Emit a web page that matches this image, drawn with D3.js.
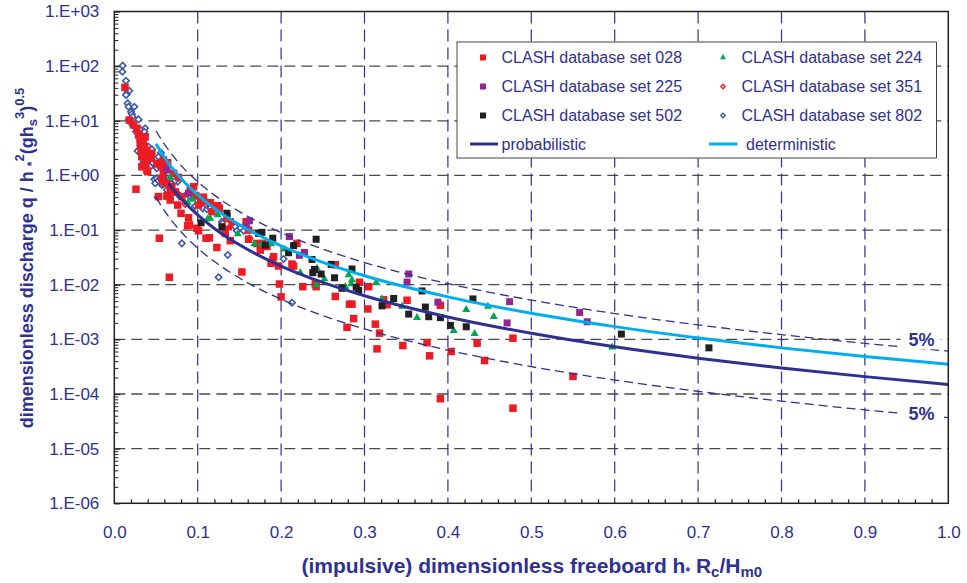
<!DOCTYPE html>
<html>
<head>
<meta charset="utf-8">
<script src="https://cdnjs.cloudflare.com/ajax/libs/d3/7.8.5/d3.min.js"></script>
<style>
  body { margin: 0; background: #fff; }
  svg text { font-family: "Liberation Sans", Arial, Helvetica, sans-serif; }
</style>
</head>
<body>
<script>
// ---- data: [h* Rc/Hm0, q/(h*^2 sqrt(g hs^3))] ----
var set028 = [[0.0128,41],[0.018,10.3],[0.023,8.4],[0.027,7.3],[0.029,5.5],[0.031,4.8],[0.033,4.4],[0.037,5.1],
  [0.031,3.9],[0.035,3.6],[0.032,2.9],[0.036,3.35],[0.039,2.9],[0.033,2.2],[0.036,2.2],[0.039,2.26],[0.043,2.05],
  [0.045,2.54],[0.037,1.66],[0.033,1.44],[0.039,1.26],[0.051,1.66],[0.055,1.55],[0.059,1.91],[0.059,1.17],
  [0.057,0.885],[0.059,0.77],[0.063,0.72],[0.026,0.56],[0.069,0.62],[0.073,0.50],[0.053,0.41],[0.063,0.42],
  [0.095,0.62],[0.091,0.525],[0.107,0.40],[0.081,0.41],[0.040,1.17],[0.054,0.071],[0.066,0.0137],[0.064,0.425],
  [0.067,0.355],[0.067,0.54],[0.071,1.09],[0.077,0.92],[0.076,0.287],[0.080,0.203],[0.089,0.168],[0.090,0.124],
  [0.088,0.12],[0.098,0.42],[0.101,0.287],[0.104,0.365],[0.106,0.33],[0.115,0.317],[0.121,0.268],[0.124,0.279],
  [0.126,0.25],[0.117,0.217],[0.099,0.108],[0.101,0.097],[0.110,0.071],[0.114,0.072],[0.123,0.048],[0.139,0.064],
  [0.133,0.087],[0.135,0.176],[0.139,0.142],[0.137,0.115],[0.153,0.0171],[0.158,0.142],[0.161,0.100],[0.161,0.068],
  [0.171,0.057],[0.175,0.043],[0.178,0.057],[0.183,0.050],[0.191,0.0326],[0.190,0.0283],[0.188,0.0247],[0.197,0.022],
  [0.198,0.0103],[0.200,0.0060],[0.213,0.0239],[0.215,0.022],[0.219,0.057],[0.226,0.0092],[0.242,0.0092],
  [0.057,1.44],[0.064,1.71],[0.059,1.26],[0.265,0.0232],[0.241,0.0103],[0.294,0.0111],[0.305,0.0092],[0.265,0.0061],
  [0.282,0.0044],[0.285,0.0044],[0.304,0.0036],[0.323,0.0053],[0.327,0.0043],[0.351,0.0052],[0.391,0.0042],
  [0.287,0.0024],[0.279,0.00166],[0.313,0.0019],[0.318,0.0013],[0.315,0.00067],[0.346,0.00077],[0.375,0.00087],
  [0.378,0.0005],[0.404,0.0006],[0.435,0.00085],[0.444,0.00041],[0.478,0.00105],[0.550,0.00021],[0.391,8.2e-5],
  [0.478,5.5e-5]];

var set224 = [[0.223,0.0166],[0.243,0.020],[0.252,0.0127],[0.242,0.0099],[0.281,0.0151],[0.285,0.0122],[0.284,0.0103],
  [0.277,0.0092],[0.314,0.0109],[0.321,0.0055],[0.345,0.0040],[0.363,0.0025],[0.422,0.0035],[0.448,0.0040],
  [0.455,0.0026],[0.407,0.00144],[0.432,0.00127],[0.597,0.00072],[0.067,0.92],[0.094,0.365],[0.088,0.317],
  [0.124,0.189],[0.115,0.164],[0.112,0.16],[0.148,0.085],[0.168,0.056],[0.177,0.056],[0.188,0.056],[0.204,0.0445]];

var set225 = [[0.228,0.039],[0.353,0.0157],[0.351,0.0112],[0.388,0.0048],[0.474,0.0049],[0.471,0.0020],[0.558,0.0031],
  [0.567,0.0021],[0.063,1.26],[0.089,0.47],[0.162,0.148],[0.158,0.119],[0.210,0.076],[0.222,0.0345]];

var set351 = [[0.085,0.30],[0.135,0.13]];

var set502 = [[0.242,0.068],[0.237,0.029],[0.240,0.019],[0.238,0.0166],[0.248,0.0157],[0.260,0.0236],[0.264,0.0134],
  [0.285,0.0194],[0.273,0.0086],[0.290,0.009],[0.293,0.0079],[0.369,0.0077],[0.335,0.0056],[0.321,0.0041],
  [0.373,0.0039],[0.353,0.0029],[0.377,0.0026],[0.391,0.0025],[0.403,0.0018],[0.422,0.0017],[0.430,0.0055],
  [0.608,0.00125],[0.713,0.0007],[0.104,0.136],[0.135,0.203],[0.129,0.115],[0.173,0.087],[0.177,0.091],
  [0.181,0.053],[0.190,0.071],[0.209,0.0385],[0.215,0.052]];

var set802 = [[0.010,102],[0.0096,79],[0.014,54],[0.016,34],[0.018,35.5],[0.015,30.8],[0.014,29.6],[0.016,20.8],
  [0.017,18.1],[0.024,18.1],[0.020,14.6],[0.021,13.3],[0.022,11.9],[0.017,10.3],[0.019,9.6],[0.022,8.4],[0.025,7.8],
  [0.029,10.6],[0.028,6.8],[0.026,6.3],[0.031,7.0],[0.037,7.3],[0.036,6.3],[0.033,5.1],[0.035,4.4],[0.029,2.9],
  [0.031,2.7],[0.028,2.8],[0.032,2.46],[0.041,3.35],[0.045,3.0],[0.037,1.91],[0.035,1.66],[0.045,2.14],[0.045,1.91],
  [0.043,1.44],[0.049,1.55],[0.051,1.35],[0.053,2.2],[0.056,2.6],[0.062,1.78],[0.048,0.85],[0.051,0.885],
  [0.049,0.72],[0.053,0.80],[0.059,0.95],[0.057,0.67],[0.063,0.54],[0.069,0.47],[0.076,0.77],[0.035,1.78],
  [0.037,1.44],[0.046,1.71],[0.053,1.55],[0.059,1.66],[0.061,1.44],[0.055,0.885],[0.059,0.70],[0.062,0.82],
  [0.068,0.70],[0.073,0.80],[0.052,0.40],[0.075,0.48],[0.077,0.44],[0.088,0.47],[0.090,0.42],[0.093,0.47],
  [0.097,0.275],[0.106,0.25],[0.111,0.24],[0.115,0.25],[0.121,0.217],[0.129,0.142],[0.130,0.133],[0.145,0.115],
  [0.147,0.097],[0.155,0.097],[0.162,0.070],[0.186,0.057],[0.081,0.057],[0.136,0.035],[0.125,0.0137],
  [0.203,0.0296],[0.213,0.0047]];

// curves (probabilistic / deterministic and the 5% bands)
var curveX     = [0.05, 0.06, 0.065, 0.07, 0.08, 0.1, 0.12, 0.15, 0.2, 0.25, 0.3, 0.4, 0.5, 0.6, 0.7, 0.8, 0.9, 1.0];
var probQ      = [null, null, 0.718, 0.570, 0.377, 0.189, 0.107, 0.0537, 0.0220, 0.0110, 0.00627, 0.00257, 0.00129, 7.31e-4, 4.53e-4, 3.0e-4, 2.08e-4, 1.5e-4];
var determQ    = [3.78, 2.15, 1.67, 1.33, 0.880, 0.441, 0.250, 0.125, 0.0514, 0.0257, 0.0146, 0.0060, 0.0030, 1.71e-3, 1.06e-3, 6.99e-4, 4.85e-4, 3.5e-4];
var upperQ     = [6.59, 3.74, 2.92, 2.32, 1.53, 0.768, 0.436, 0.218, 0.0895, 0.0448, 0.0255, 0.01045, 0.00523, 2.97e-3, 1.84e-3, 1.22e-3, 8.45e-4, 6.1e-4];
var lowerQ     = [0.400, 0.227, 0.177, 0.141, 0.093, 0.0466, 0.0265, 0.01325, 0.00543, 0.00272, 0.00155, 6.34e-4, 3.17e-4, 1.80e-4, 1.12e-4, 7.39e-5, 5.13e-5, 3.7e-5];

var xTickLabels = ["0.0","0.1","0.2","0.3","0.4","0.5","0.6","0.7","0.8","0.9","1.0"];
var yTickLabels = ["1.E-06","1.E-05","1.E-04","1.E-03","1.E-02","1.E-01","1.E+00","1.E+01","1.E+02","1.E+03"];
var legendNames = ["CLASH database set 028","CLASH database set 224","CLASH database set 225",
  "CLASH database set 351","CLASH database set 502","CLASH database set 802"];

// ---- layout ----
var svgWidth = 967, svgHeight = 583;
var margin = { top: 11.5, right: 18.7, bottom: 79.7, left: 114.3 };
var chartWidth = svgWidth - margin.left - margin.right;
var chartHeight = svgHeight - margin.top - margin.bottom;

var navy = "#2e3192";
var cyan = "#00aeef";

var svg = d3.select("body").append("svg")
  .attr("width", svgWidth)
  .attr("height", svgHeight);

var chartGroup = svg.append("g")
  .attr("transform", `translate(${margin.left}, ${margin.top})`);

var xScale = d3.scaleLinear().domain([0, 1]).range([0, chartWidth]);
var yScale = d3.scaleLog().domain([1e-6, 1e3]).range([chartHeight, 0]);

var decades = yTickLabels.map((d, i) => Math.pow(10, i - 6));
var xMajors = xTickLabels.map((d, i) => i / 10);

// gridlines
chartGroup.selectAll(".hgrid")
  .data(decades.slice(1, -1))
  .enter().append("line")
  .attr("x1", 0).attr("x2", chartWidth)
  .attr("y1", d => yScale(d)).attr("y2", d => yScale(d))
  .attr("stroke", "#4a4a4a").attr("stroke-width", 1.3)
  .attr("stroke-dasharray", "11,6");

chartGroup.selectAll(".vgrid")
  .data(xMajors.slice(1, -1))
  .enter().append("line")
  .attr("y1", 0).attr("y2", chartHeight)
  .attr("x1", d => xScale(d)).attr("x2", d => xScale(d))
  .attr("stroke", navy).attr("stroke-width", 1.2)
  .attr("stroke-dasharray", "12,6");

// axes
var minorY = yScale.ticks().filter(d => Math.round(d / Math.pow(10, Math.floor(Math.log10(d) + 1e-9))) !== 1);
chartGroup.append("g")
  .call(d3.axisLeft(yScale).tickValues(minorY).tickSize(-4).tickFormat(""))
  .call(g => g.select(".domain").remove())
  .selectAll("line").attr("stroke", "#231f20").attr("stroke-width", 1);

var leftAxis = d3.axisLeft(yScale).tickValues(decades)
  .tickFormat((d, i) => yTickLabels[i]).tickSize(-6).tickPadding(15);
chartGroup.append("g").call(leftAxis)
  .call(g => g.select(".domain").remove())
  .call(g => g.selectAll("line").attr("stroke", "#231f20").attr("stroke-width", 1.2))
  .call(g => g.selectAll("text").attr("fill", navy).style("font-size", "17px"));

var minorX = d3.range(1, 50).map(i => i / 50).filter((d, i) => (i + 1) % 5 !== 0);
chartGroup.append("g")
  .attr("transform", `translate(0, ${chartHeight})`)
  .call(d3.axisBottom(xScale).tickValues(minorX).tickSize(-4).tickFormat(""))
  .call(g => g.select(".domain").remove())
  .selectAll("line").attr("stroke", "#231f20").attr("stroke-width", 1.2);

chartGroup.append("g")
  .attr("transform", `translate(0, ${chartHeight})`)
  .call(d3.axisBottom(xScale).tickValues(xMajors).tickFormat((d, i) => xTickLabels[i]).tickSize(0).tickPadding(22.5))
  .call(g => g.select(".domain").remove())
  .call(g => g.selectAll("text").attr("fill", navy).style("font-size", "17px"));

// markers
function squares(data, color, size) {
  chartGroup.append("g").selectAll("rect")
    .data(data).enter().append("rect")
    .attr("x", d => xScale(d[0]) - size / 2)
    .attr("y", d => yScale(d[1]) - size / 2)
    .attr("width", size).attr("height", size)
    .attr("fill", color);
}
function diamonds(data, color, size) {
  chartGroup.append("g").selectAll("path")
    .data(data).enter().append("path")
    .attr("d", d3.symbol(d3.symbolSquare, size * size))
    .attr("transform", d => `translate(${xScale(d[0])},${yScale(d[1])}) rotate(45)`)
    .attr("fill", "#fff").attr("stroke", color).attr("stroke-width", 1.6);
}
function triangles(data, color, size) {
  chartGroup.append("g").selectAll("path")
    .data(data).enter().append("path")
    .attr("d", d3.symbol(d3.symbolTriangle, size))
    .attr("transform", d => `translate(${xScale(d[0])},${yScale(d[1])})`)
    .attr("fill", color);
}

diamonds(set802, "#3b58a8", 4.5);
squares(set028, "#ed1c24", 7.5);
diamonds(set351, "#ed1c24", 4.5);
squares(set225, "#92278f", 7);
triangles(set224, "#00a651", 28);
squares(set502, "#231f20", 7);

// curves
function curveLine(values, color, width, dash) {
  var pts = curveX.map((x, i) => [x, values[i]]).filter(d => d[1] != null);
  chartGroup.append("path")
    .datum(pts)
    .attr("fill", "none")
    .attr("stroke", color)
    .attr("stroke-width", width)
    .attr("stroke-dasharray", dash)
    .attr("d", d3.line().x(d => xScale(d[0])).y(d => yScale(d[1])).curve(d3.curveMonotoneX));
}
curveLine(upperQ, navy, 1.3, "9,5");
curveLine(lowerQ, navy, 1.3, "9,5");
curveLine(determQ, cyan, 3, null);
curveLine(probQ, navy, 3, null);

// 5% labels (value levels where they sit, at h* Rc/Hm0 = 0.968)
var bandLabels = [{ x: 0.968, q: 1.0e-3 }, { x: 0.968, q: 4.4e-5 }];
bandLabels.forEach(function (p) {
  var cx = xScale(p.x), cy = yScale(p.q);
  chartGroup.append("rect")
    .attr("x", cx - 21).attr("y", cy - 10).attr("width", 40).attr("height", 20)
    .attr("fill", "#fff");
  chartGroup.append("text")
    .attr("x", cx).attr("y", cy + 6.5)
    .attr("text-anchor", "middle")
    .attr("fill", navy).style("font-size", "18px").style("font-weight", "bold")
    .text("5%");
});

// frame
chartGroup.append("rect")
  .attr("width", chartWidth).attr("height", chartHeight)
  .attr("fill", "none").attr("stroke", "#231f20").attr("stroke-width", 1.5);

// legend
var legend = svg.append("g").attr("transform", "translate(457, 42)");
legend.append("rect")
  .attr("width", 479.5).attr("height", 116)
  .attr("fill", "#fff").attr("stroke", "#444").attr("stroke-width", 1);

var legendItems = [
  { name: legendNames[0], kind: "sq", color: "#ed1c24", col: 0, row: 0 },
  { name: legendNames[1], kind: "tri", color: "#00a651", col: 1, row: 0 },
  { name: legendNames[2], kind: "sq", color: "#92278f", col: 0, row: 1 },
  { name: legendNames[3], kind: "dia", color: "#ed1c24", col: 1, row: 1 },
  { name: legendNames[4], kind: "sq", color: "#231f20", col: 0, row: 2 },
  { name: legendNames[5], kind: "dia", color: "#3b58a8", col: 1, row: 2 }
];
var rowY = [15.5, 44.5, 73.5, 102];
var colX = [26, 266];
legendItems.forEach(function (it) {
  var mx = colX[it.col], my = rowY[it.row];
  if (it.kind === "sq") {
    legend.append("rect").attr("x", mx - 3).attr("y", my - 3).attr("width", 6).attr("height", 6).attr("fill", it.color);
  } else if (it.kind === "tri") {
    legend.append("path").attr("d", d3.symbol(d3.symbolTriangle, 16)).attr("transform", `translate(${mx},${my})`).attr("fill", it.color);
  } else {
    legend.append("path").attr("d", d3.symbol(d3.symbolSquare, 10)).attr("transform", `translate(${mx},${my}) rotate(45)`)
      .attr("fill", "#fff").attr("stroke", it.color).attr("stroke-width", 1.3);
  }
  legend.append("text")
    .attr("x", mx + 18.5).attr("y", my + 5.5)
    .attr("fill", navy).style("font-size", "16px")
    .text(it.name);
});
legend.append("line").attr("x1", 13).attr("x2", 41).attr("y1", rowY[3]).attr("y2", rowY[3])
  .attr("stroke", navy).attr("stroke-width", 3);
legend.append("text").attr("x", 44.5).attr("y", rowY[3] + 5.5)
  .attr("fill", navy).style("font-size", "16px").text("probabilistic");
legend.append("line").attr("x1", 252).attr("x2", 280.5).attr("y1", rowY[3]).attr("y2", rowY[3])
  .attr("stroke", cyan).attr("stroke-width", 3);
legend.append("text").attr("x", 289).attr("y", rowY[3] + 5.5)
  .attr("fill", navy).style("font-size", "16px").text("deterministic");

// axis titles
var xTitle = svg.append("text")
  .attr("x", 301.5).attr("y", 573)
  .attr("fill", navy).style("font-size", "21px").style("font-weight", "bold");
xTitle.append("tspan").text("(impulsive) dimensionless freeboard h");
xTitle.append("tspan").attr("dy", 3).style("font-size", "12px").text("*");
xTitle.append("tspan").attr("dy", -3).text(" R");
xTitle.append("tspan").attr("dy", 4).style("font-size", "15px").text("c");
xTitle.append("tspan").attr("dy", -4).text("/H");
xTitle.append("tspan").attr("dy", 4).style("font-size", "15px").text("m0");

var yTitle = svg.append("text")
  .attr("transform", "translate(32.5, 258) rotate(-90)")
  .attr("text-anchor", "middle")
  .attr("fill", navy).style("font-size", "18px").style("font-weight", "bold");
yTitle.append("tspan").text("dimensionless discharge q / h ");
yTitle.append("tspan").attr("dy", 3).style("font-size", "12px").text("*");
yTitle.append("tspan").attr("dy", -12).style("font-size", "13px").text("2");
yTitle.append("tspan").attr("dy", 9).text("(gh");
yTitle.append("tspan").attr("dy", 4).style("font-size", "13px").text("s");
yTitle.append("tspan").attr("dy", -13).style("font-size", "13px").text("3");
yTitle.append("tspan").attr("dy", 9).text(")");
yTitle.append("tspan").attr("dy", -9).style("font-size", "13px").text("0.5");
</script>
</body>
</html>
